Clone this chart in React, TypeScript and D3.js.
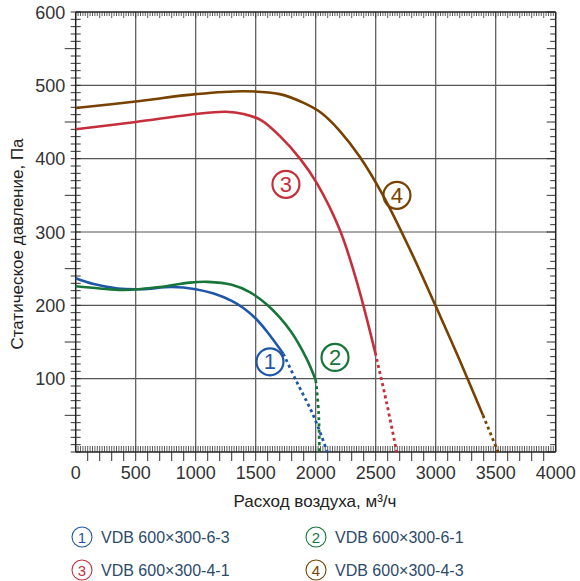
import React from "react";
import * as d3 from "d3";

const xTicks = [0, 500, 1000, 1500, 2000, 2500, 3000, 3500, 4000];
const yTicks = [100, 200, 300, 400, 500, 600];
const xGrid = [500, 1000, 1500, 2000, 2500, 3000, 3500];
const yGrid = [100, 200, 300, 400, 500];

// [flow m3/h, pressure Pa]
const s1Solid: [number, number][] = [[0, 237], [150, 229], [350, 223], [550, 222], [800, 225], [1000, 222], [1150, 216], [1300, 206], [1400, 196], [1500, 182], [1600, 163], [1730, 134]];
const s1Dot: [number, number][] = [[1730, 134], [1841, 96], [1980, 50], [2097, 0]];
const s2Solid: [number, number][] = [[0, 226], [200, 223], [400, 221], [700, 225], [950, 231], [1100, 232], [1300, 228], [1450, 218], [1600, 200], [1786, 166], [1925, 127], [2000, 98]];
const s2Dot: [number, number][] = [[2000, 98], [2024, 55], [2030, 0]];
const s3Solid: [number, number][] = [[0, 440], [500, 450], [1000, 461], [1250, 464], [1400, 461], [1550, 452], [1700, 431], [1869, 400], [2008, 367], [2203, 302], [2350, 228], [2497, 135]];
const s3Dot: [number, number][] = [[2497, 135], [2590, 68], [2675, 0]];
const s4Solid: [number, number][] = [[0, 469], [500, 478], [1000, 488], [1400, 492], [1700, 488], [1900, 476], [2050, 462], [2200, 438], [2370, 402], [2561, 350], [2786, 276], [3000, 199], [3200, 125], [3394, 50]];
const s4Dot: [number, number][] = [[3394, 50], [3520, 0]];

const seriesNames = ["VDB 600×300-6-3", "VDB 600×300-6-1", "VDB 600×300-4-1", "VDB 600×300-4-3"];
const seriesColors = ["#1f56a8", "#17753a", "#c52f3c", "#774200"];
const seriesDigits = ["1", "2", "3", "4"];
const labelAnchors: [number, number][] = [[1619, 123], [2161, 129], [1752, 365], [2677, 350]];

export default function App() {
  const W = 580, H = 581;
  const x = d3.scaleLinear().domain([0, 4000]).range([75.7, 555.7]);
  const y = d3.scaleLinear().domain([0, 600]).range([452, 12]);
  const line = d3.line<[number, number]>().x(d => x(d[0])).y(d => y(d[1])).curve(d3.curveCatmullRom.alpha(0.5));
  const lineDot = d3.line<[number, number]>().x(d => x(d[0])).y(d => y(d[1])).curve(d3.curveCatmullRom);

  const solids = [s1Solid, s2Solid, s3Solid, s4Solid];
  const dots = [s1Dot, s2Dot, s3Dot, s4Dot];

  const font = "'Liberation Sans', Arial, Helvetica, sans-serif";
  const tickColor = "#333";

  const x20 = d3.range(0, 4001, 20);
  const x100 = d3.range(100, 4000, 100);
  const y10 = d3.range(0, 601, 10);

  return (
    <svg width={W} height={H} style={{ position: "absolute", left: 0, top: 0, background: "#fff" }} fontFamily={font}>
      {xGrid.map(v => (
        <line key={"gx" + v} x1={x(v)} x2={x(v)} y1={y(600)} y2={y(0)} stroke="#555" strokeWidth={1.2} />
      ))}
      {yGrid.map(v => (
        <line key={"gy" + v} x1={x(0)} x2={x(4000)} y1={y(v)} y2={y(v)} stroke="#555" strokeWidth={1.2} />
      ))}
      {x20.map(v => (
        <line key={"bt" + v} x1={x(v)} x2={x(v)} y1={y(0) - 6} y2={y(0)} stroke={tickColor} strokeWidth={0.8} />
      ))}
      {x100.map(v => (
        <line key={"bb" + v} x1={x(v)} x2={x(v)} y1={y(0)} y2={y(0) + 9} stroke={tickColor} strokeWidth={1} />
      ))}
      {x20.map(v => (
        <line key={"tt" + v} x1={x(v)} x2={x(v)} y1={y(600)} y2={y(600) + (v % 100 === 0 ? 6 : 4)} stroke={tickColor} strokeWidth={0.8} />
      ))}
      {y10.map(v => (
        <line key={"lt" + v} x1={v % 50 === 0 && v % 100 !== 0 ? x(0) - 11 : x(0) - 5} x2={x(0) + 5} y1={y(v)} y2={y(v)} stroke={tickColor} strokeWidth={1} />
      ))}
      {y10.map(v => (
        <line key={"rt" + v} x1={x(4000) - (v % 50 === 0 ? 9 : 5.5)} x2={x(4000)} y1={y(v)} y2={y(v)} stroke={tickColor} strokeWidth={1} />
      ))}
      <line x1={x(0)} x2={x(0)} y1={y(600)} y2={y(0)} stroke="#222" strokeWidth={1.5} />
      <line x1={x(0)} x2={x(4000)} y1={y(0)} y2={y(0)} stroke="#222" strokeWidth={1.5} />
      <line x1={x(0)} x2={x(4000)} y1={y(600)} y2={y(600)} stroke="#222" strokeWidth={1.5} />
      <line x1={x(4000)} x2={x(4000)} y1={y(600)} y2={y(0)} stroke="#222" strokeWidth={1.5} />

      {solids.map((s, i) => (
        <path key={"s" + i} d={line(s) || ""} fill="none" stroke={seriesColors[i]} strokeWidth={2.6} />
      ))}
      {dots.map((s, i) => (
        <path key={"d" + i} d={lineDot(s) || ""} fill="none" stroke={seriesColors[i]} strokeWidth={2.8} strokeDasharray="3,3.2" />
      ))}

      {labelAnchors.map((a, i) => (
        <g key={"lab" + i} transform={`translate(${x(a[0])},${y(a[1])})`}>
          <circle r={13.5} fill="none" stroke={seriesColors[i]} strokeWidth={2.2} />
          <text y={7.5} textAnchor="middle" fontSize={22} fill={seriesColors[i]} fontWeight={300}>{seriesDigits[i]}</text>
        </g>
      ))}

      {xTicks.map(v => (
        <text key={"xl" + v} x={x(v)} y={y(0) + 26.5} textAnchor="middle" fontSize={18} fill="#333">{v}</text>
      ))}
      {yTicks.map(v => (
        <text key={"yl" + v} x={x(0) - 10.5} y={y(v) + 6.5} textAnchor="end" fontSize={18} fill="#333">{v}</text>
      ))}

      <text x={315} y={507} textAnchor="middle" fontSize={17} fill="#222">Расход воздуха, м³/ч</text>
      <text transform={`translate(23,${244}) rotate(-90)`} textAnchor="middle" fontSize={17} fill="#222">Статическое давление, Па</text>

      {seriesNames.map((n, i) => {
        const col = i % 2, row = Math.floor(i / 2);
        const cx = col === 0 ? 82 : 316;
        const cy = row === 0 ? 537 : 570;
        return (
          <g key={"lg" + i}>
            <circle cx={cx} cy={cy} r={10} fill="none" stroke={seriesColors[i]} strokeWidth={1.1} />
            <text x={cx} y={cy + 5.5} textAnchor="middle" fontSize={15} fill={seriesColors[i]} fontWeight={300}>{seriesDigits[i]}</text>
            <text x={cx + 19} y={cy + 6} fontSize={16} fill="#2d4a6b">{n}</text>
          </g>
        );
      })}
    </svg>
  );
}
